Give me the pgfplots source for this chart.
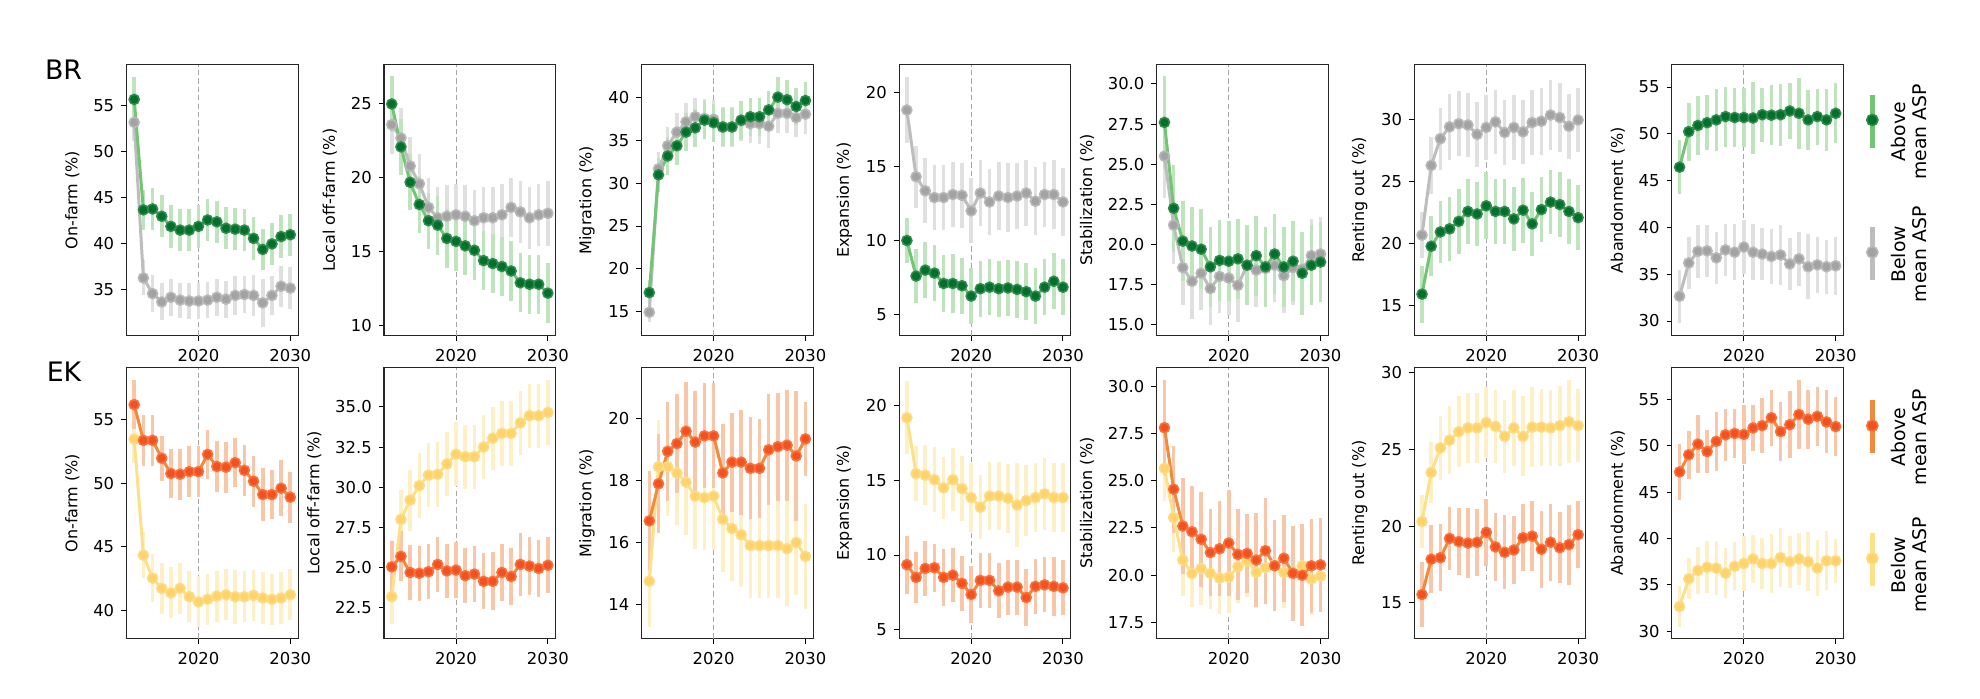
\documentclass[border=0pt]{standalone}
\usepackage{fontspec}
\setmainfont{DejaVu Sans}
\usepackage{pgfplots}
\usepackage{pgfplotstable}
\pgfplotsset{compat=1.18}

\definecolor{gdark}{HTML}{00702C}
\definecolor{gedge}{HTML}{2E8B4A}
\definecolor{gline}{HTML}{74C476}
\definecolor{BRAerr}{HTML}{BFE3BD}
\definecolor{kface}{HTML}{A3A3A3}
\definecolor{kedge}{HTML}{B8B8B8}
\definecolor{kline}{HTML}{BDBDBD}
\definecolor{BRBerr}{HTML}{E0E0E0}
\definecolor{rface}{HTML}{F4511E}
\definecolor{redge}{HTML}{F6733F}
\definecolor{rline}{HTML}{F08A3C}
\definecolor{EKAerr}{HTML}{F8C6A8}
\definecolor{yface}{HTML}{FDD36A}
\definecolor{yedge}{HTML}{FDDC85}
\definecolor{yline}{HTML}{FCE08A}
\definecolor{EKBerr}{HTML}{FDF0C7}

\pgfplotsset{
  panel/.style={anchor=south west, scale only axis, width=85.85pt, height=135.5pt,
    xmin=2012.15, xmax=2030.85, xtick={2020,2030},
    tick align=outside, xtick pos=left, ytick pos=left, major tick length=2.6pt,
    tick style={black, line width=0.5pt}, axis line style={line width=0.55pt, black!85},
    /pgf/number format/1000 sep={}, /pgf/number format/assume math mode=true,
    tick label style={font=\fontsize{8.2}{9}\selectfont},
    label style={font=\fontsize{8}{9}\selectfont},
    xticklabel style={yshift=-0.5pt}},
  refline/.style={forget plot, mark=none, color=black!35, line width=0.5pt, dash pattern=on 2.6pt off 1.6pt},
  errs/.style={forget plot, draw=none, mark=none, error bars/.cd, y dir=both, y explicit, error mark=none,
    error bar style={line width=1.8pt, draw=#1, solid}},
  lerrs/.style={forget plot, draw=none, mark=none, error bars/.cd, y dir=both, y explicit, error mark=none,
    error bar style={line width=2.2pt, draw=#1, solid}},
  BRA/.style={color=gline, line width=1.5pt, mark=*, mark size=2.5pt, mark options={fill=gdark, draw=gedge, line width=0.8pt}},
  BRB/.style={color=kline, line width=1.5pt, mark=*, mark size=2.5pt, mark options={fill=kface, draw=kedge, line width=0.8pt}},
  EKA/.style={color=rline, line width=1.5pt, mark=*, mark size=2.5pt, mark options={fill=rface, draw=redge, line width=0.8pt}},
  EKB/.style={color=yline, line width=1.5pt, mark=*, mark size=2.5pt, mark options={fill=yface, draw=yedge, line width=0.8pt}},
  dec/.style={yticklabel style={/pgf/number format/.cd, fixed, fixed zerofill, precision=1}}
}

% columns: year, Above mean ASP (A, error Ae), Below mean ASP (B, error Be)
\pgfplotstableread{
yr A Ae B Be
2013 55.7 2.4 53.2 2.0
2014 43.7 2.2 36.3 1.9
2015 43.8 2.3 34.6 2.0
2016 43.0 2.3 33.7 2.0
2017 41.9 2.3 34.2 2.0
2018 41.5 2.3 33.9 1.9
2019 41.5 2.3 33.8 2.0
2020 41.9 2.3 33.8 2.0
2021 42.6 2.3 33.9 2.0
2022 42.4 2.3 34.2 2.0
2023 41.7 2.3 34.0 2.0
2024 41.6 2.3 34.4 2.1
2025 41.5 2.3 34.5 2.0
2026 40.6 2.3 34.4 2.2
2027 39.4 2.2 33.6 2.6
2028 40.0 2.3 34.4 2.1
2029 40.8 2.3 35.4 2.2
2030 41.0 2.3 35.2 2.3
}\tBRa
\pgfplotstableread{
yr A Ae B Be
2013 25.0 1.9 23.6 2.0
2014 22.1 1.9 22.7 2.0
2015 19.7 1.9 20.8 2.0
2016 18.2 1.9 19.6 2.0
2017 17.1 1.9 18.0 2.0
2018 16.8 2.0 17.3 2.1
2019 15.9 2.0 17.4 2.1
2020 15.7 2.0 17.5 2.1
2021 15.4 2.0 17.4 2.1
2022 15.1 2.0 17.1 2.1
2023 14.4 2.0 17.3 2.1
2024 14.2 2.0 17.3 2.1
2025 14.0 2.0 17.5 2.1
2026 13.7 2.0 18.0 2.0
2027 12.9 2.0 17.7 2.1
2028 12.8 2.0 17.3 2.1
2029 12.8 2.0 17.5 2.1
2030 12.2 2.05 17.6 2.2
}\tBRb
\pgfplotstableread{
yr A Ae B Be
2013 17.2 1.5 14.9 1.1
2014 31.0 2.0 31.7 2.0
2015 33.2 2.2 34.4 2.2
2016 34.4 2.2 36.0 2.2
2017 36.0 2.2 37.2 2.2
2018 36.5 2.2 37.8 2.2
2019 37.4 2.2 37.6 2.3
2020 37.1 2.2 37.5 2.3
2021 36.6 2.2 36.6 2.3
2022 36.6 2.2 36.6 2.3
2023 37.4 2.2 37.3 2.3
2024 37.8 2.2 37.0 2.3
2025 37.8 2.2 37.0 2.4
2026 38.6 2.2 36.7 2.6
2027 40.1 2.3 38.2 2.3
2028 39.8 2.3 38.2 2.3
2029 39.0 2.2 37.7 2.3
2030 39.7 2.2 38.1 2.3
}\tBRc
\pgfplotstableread{
yr A Ae B Be
2013 10.0 1.5 18.8 2.2
2014 7.6 1.8 14.3 2.1
2015 8.0 1.9 13.35 2.2
2016 7.8 1.9 12.9 2.2
2017 7.1 1.9 12.9 2.2
2018 7.1 2.0 13.1 2.2
2019 6.95 1.9 13.05 2.2
2020 6.25 1.9 12.0 2.2
2021 6.75 1.9 13.2 2.2
2022 6.85 1.9 12.6 2.2
2023 6.75 1.9 13.0 2.3
2024 6.8 1.9 12.9 2.3
2025 6.7 1.9 13.0 2.2
2026 6.55 1.9 13.2 2.2
2027 6.25 1.9 12.65 2.3
2028 6.85 1.9 13.1 2.2
2029 7.25 1.9 13.1 2.3
2030 6.85 1.9 12.6 2.3
}\tBRd
\pgfplotstableread{
yr A Ae B Be
2013 27.6 2.9 25.5 2.6
2014 22.25 2.7 21.2 2.4
2015 20.2 2.5 18.55 2.3
2016 19.9 2.45 17.7 2.35
2017 19.7 2.5 18.2 2.3
2018 18.6 2.5 17.25 2.3
2019 19.0 2.5 18.0 2.3
2020 18.95 2.5 17.9 2.3
2021 19.1 2.5 17.45 2.3
2022 18.7 2.5 18.7 2.3
2023 19.3 2.5 18.4 2.3
2024 18.6 2.5 18.5 2.3
2025 19.4 2.5 18.7 2.3
2026 18.6 2.5 18.05 2.3
2027 18.95 2.5 18.55 2.3
2028 18.2 2.6 18.45 2.3
2029 18.7 2.5 19.3 2.3
2030 18.9 2.5 19.4 2.3
}\tBRe
\pgfplotstableread{
yr A Ae B Be
2013 15.95 2.3 20.7 1.85
2014 19.8 2.4 26.3 2.3
2015 20.95 2.5 28.45 2.5
2016 21.2 2.6 29.4 2.65
2017 21.8 2.6 29.65 2.6
2018 22.6 2.6 29.55 2.6
2019 22.4 2.6 28.8 2.6
2020 23.05 2.7 29.35 2.6
2021 22.6 2.6 29.8 2.6
2022 22.6 2.6 28.95 2.6
2023 22.0 2.6 29.35 2.6
2024 22.7 2.6 29.0 2.6
2025 21.6 2.6 29.75 2.6
2026 22.75 2.6 29.85 2.7
2027 23.35 2.6 30.35 2.8
2028 23.15 2.6 30.15 2.8
2029 22.6 2.6 29.45 2.6
2030 22.1 2.6 29.95 2.6
}\tBRf
\pgfplotstableread{
yr A Ae B Be
2013 46.45 2.9 32.65 2.85
2014 50.25 3.1 36.2 2.8
2015 50.9 3.2 37.45 2.8
2016 51.2 2.95 37.5 2.8
2017 51.5 3.3 36.75 2.8
2018 51.85 3.2 37.6 2.8
2019 51.75 3.2 37.35 3.0
2020 51.75 3.2 37.9 2.9
2021 51.7 3.8 37.35 3.0
2022 52.05 2.9 37.15 2.8
2023 52.0 3.2 36.9 2.9
2024 52.05 3.3 37.05 3.2
2025 52.45 3.0 36.1 2.8
2026 52.2 3.8 36.65 2.9
2027 51.5 3.2 35.8 3.5
2028 51.85 3.0 36.0 3.0
2029 51.5 3.3 35.8 2.9
2030 52.2 3.2 35.9 3.1
}\tBRg
\pgfplotstableread{
yr A Ae B Be
2013 56.15 1.9 53.45 1.9
2014 53.35 2.0 44.35 1.8
2015 53.35 2.0 42.55 1.9
2016 51.95 1.75 41.75 2.0
2017 50.75 1.9 41.4 2.0
2018 50.7 2.0 41.75 2.0
2019 50.9 2.0 41.1 2.0
2020 50.9 2.0 40.7 2.0
2021 52.25 1.9 40.9 2.0
2022 51.3 2.0 41.15 2.0
2023 51.25 2.0 41.25 2.0
2024 51.6 1.9 41.1 2.1
2025 51.0 2.0 41.1 2.0
2026 50.15 2.0 41.2 2.0
2027 49.1 2.05 41.0 2.0
2028 49.1 1.9 40.9 2.0
2029 49.6 2.2 41.0 2.0
2030 48.9 2.0 41.25 2.0
}\tEKa
\pgfplotstableread{
yr A Ae B Be
2013 25.05 1.6 23.2 1.7
2014 25.7 1.55 28.0 1.8
2015 24.7 1.7 29.2 1.9
2016 24.65 1.7 30.1 2.0
2017 24.75 1.7 30.75 2.0
2018 25.2 1.7 30.8 2.0
2019 24.8 1.7 31.45 2.0
2020 24.85 1.75 32.05 2.0
2021 24.5 1.7 31.9 2.0
2022 24.6 1.75 31.9 2.0
2023 24.15 1.75 32.5 2.0
2024 24.15 1.8 33.05 1.95
2025 24.7 1.75 33.35 2.0
2026 24.45 1.8 33.35 2.0
2027 25.2 1.95 34.0 2.0
2028 25.1 1.8 34.45 2.0
2029 24.95 1.8 34.45 2.0
2030 25.15 1.75 34.65 2.0
}\tEKb
\pgfplotstableread{
yr A Ae B Be
2013 16.7 1.6 14.75 1.5
2014 17.9 1.6 18.45 1.5
2015 18.95 1.6 18.45 1.6
2016 19.2 1.6 18.25 1.7
2017 19.6 1.6 17.95 1.7
2018 19.25 1.65 17.5 1.7
2019 19.45 1.7 17.45 1.7
2020 19.45 1.7 17.5 1.75
2021 18.25 1.6 16.75 1.7
2022 18.6 1.6 16.45 1.7
2023 18.6 1.7 16.25 1.7
2024 18.4 1.65 15.9 1.7
2025 18.4 1.6 15.9 1.7
2026 19.0 1.8 15.9 1.7
2027 19.1 1.75 15.9 1.7
2028 19.15 1.8 15.8 1.85
2029 18.8 2.1 16.0 1.7
2030 19.35 1.2 15.55 1.7
}\tEKc
\pgfplotstableread{
yr A Ae B Be
2013 9.35 1.95 19.2 2.45
2014 8.5 1.7 15.45 1.85
2015 9.1 1.85 15.35 2.0
2016 9.15 1.6 15.05 2.2
2017 8.5 1.9 14.5 2.1
2018 8.65 1.8 15.05 2.1
2019 8.1 1.85 14.45 2.2
2020 7.35 1.9 13.85 2.3
2021 8.3 1.85 13.2 2.15
2022 8.3 1.85 13.95 2.3
2023 7.6 1.85 13.95 2.3
2024 7.85 1.85 13.8 2.3
2025 7.85 1.85 13.35 2.8
2026 7.15 1.9 13.65 2.4
2027 7.9 1.85 13.85 2.3
2028 8.0 1.85 14.1 2.4
2029 7.9 2.0 13.85 2.3
2030 7.8 1.85 13.85 2.3
}\tEKd
\pgfplotstableread{
yr A Ae B Be
2013 27.8 2.5 25.65 1.7
2014 24.55 2.3 23.05 1.8
2015 22.6 2.55 20.8 1.9
2016 22.3 2.4 20.1 1.8
2017 21.9 2.5 20.35 1.9
2018 21.2 2.3 20.1 1.9
2019 21.4 2.5 19.85 1.9
2020 21.7 2.8 19.9 1.9
2021 21.1 2.4 20.45 1.9
2022 21.15 2.1 20.75 1.9
2023 20.8 2.5 20.15 1.9
2024 21.3 2.8 20.4 1.9
2025 20.5 2.4 20.55 1.9
2026 20.9 2.3 20.15 1.9
2027 20.1 2.5 20.1 1.9
2028 20.0 2.7 20.5 1.9
2029 20.5 2.5 19.8 1.9
2030 20.55 2.5 19.95 1.9
}\tEKe
\pgfplotstableread{
yr A Ae B Be
2013 15.55 2.1 20.3 1.75
2014 17.85 2.2 23.5 2.0
2015 17.95 2.2 25.1 2.1
2016 19.2 2.05 25.6 2.2
2017 19.0 2.2 26.15 2.3
2018 18.9 2.3 26.4 2.3
2019 18.95 2.2 26.4 2.3
2020 19.6 2.2 26.75 2.3
2021 18.65 2.2 26.5 2.4
2022 18.3 2.4 25.85 2.4
2023 18.45 2.2 26.4 2.5
2024 19.25 2.2 25.85 2.6
2025 19.35 2.3 26.45 2.6
2026 18.5 2.5 26.45 2.5
2027 18.95 2.5 26.4 2.5
2028 18.6 2.3 26.55 2.6
2029 18.8 2.6 26.8 2.7
2030 19.45 2.2 26.55 2.4
}\tEKf
\pgfplotstableread{
yr A Ae B Be
2013 47.2 3.0 32.65 2.2
2014 49.05 2.6 35.65 2.2
2015 50.2 3.1 36.55 2.5
2016 49.4 2.3 36.9 2.8
2017 50.5 3.2 36.8 2.9
2018 51.2 2.8 36.25 2.7
2019 51.35 2.6 37.0 2.6
2020 51.25 3.2 37.3 3.0
2021 51.95 2.5 37.8 2.6
2022 52.2 3.0 37.3 2.8
2023 53.05 3.0 37.3 3.2
2024 51.55 3.2 37.95 3.2
2025 52.3 3.6 37.5 2.8
2026 53.4 3.75 37.8 2.8
2027 52.9 3.2 37.5 3.2
2028 53.2 3.2 36.8 3.0
2029 52.6 3.4 37.6 3.2
2030 52.1 3.2 37.6 2.4
}\tEKg

% #1 position, #2 (unused), #3 table, #4 ymin, #5 ymax, #6 yticks, #7 ylabel, #8 extra options, #9 row
\newcommand{\panel}[9]{%
\begin{axis}[panel, at={(#1)}, ymin=#4, ymax=#5, ytick={#6}, ylabel={#7}, #8]
\addplot[refline] coordinates {(2020,#4) (2020,#5)};
\addplot[errs=#9Berr] table[x=yr, y=B, y error=Be] {#3};
\addplot[errs=#9Aerr] table[x=yr, y=A, y error=Ae] {#3};
\addplot[#9B] table[x=yr, y=B] {#3};
\addplot[#9A] table[x=yr, y=A] {#3};
\end{axis}}

\begin{document}
\begin{tikzpicture}
\path[use as bounding box] (0,0) rectangle (990pt,349.5pt);

\panel{63.2pt,181.65pt}{}{\tBRa}{30.03}{59.47}{35,40,45,50,55}{On-farm (\%)}{}{BR}
\panel{191.98pt,181.65pt}{}{\tBRb}{9.32}{27.66}{10,15,20,25}{Local off-farm (\%)}{}{BR}
\panel{320.76pt,181.65pt}{}{\tBRc}{12.15}{43.9}{15,20,25,30,35,40}{Migration (\%)}{}{BR}
\panel{449.54pt,181.65pt}{}{\tBRd}{3.58}{21.86}{5,10,15,20}{Expansion (\%)}{}{BR}
\panel{578.32pt,181.65pt}{}{\tBRe}{14.31}{31.2}{15,17.5,20,22.5,25,27.5,30}{Stabilization (\%)}{dec}{BR}
\panel{707.1pt,181.65pt}{}{\tBRf}{12.61}{34.4}{15,20,25,30}{Renting out (\%)}{}{BR}
\panel{835.88pt,181.65pt}{}{\tBRg}{28.43}{57.4}{30,35,40,45,50,55}{Abandonment (\%)}{}{BR}

\panel{63.2pt,30.2pt}{}{\tEKa}{37.82}{59.05}{40,45,50,55}{On-farm (\%)}{}{EK}
\panel{191.98pt,30.2pt}{}{\tEKb}{20.59}{37.44}{22.5,25,27.5,30,32.5,35}{Local off-farm (\%)}{dec}{EK}
\panel{320.76pt,30.2pt}{}{\tEKc}{12.89}{21.66}{14,16,18,20}{Migration (\%)}{}{EK}
\panel{449.54pt,30.2pt}{}{\tEKd}{4.4}{22.56}{5,10,15,20}{Expansion (\%)}{}{EK}
\panel{578.32pt,30.2pt}{}{\tEKe}{16.65}{30.98}{17.5,20,22.5,25,27.5,30}{Stabilization (\%)}{dec}{EK}
\panel{707.1pt,30.2pt}{}{\tEKf}{12.68}{30.33}{15,20,25,30}{Renting out (\%)}{}{EK}
\panel{835.88pt,30.2pt}{}{\tEKg}{29.19}{58.47}{30,35,40,45,50,55}{Abandonment (\%)}{}{EK}

% overlay axis in pixel units of the reference, for row titles and legends
\begin{axis}[at={(0pt,0pt)}, anchor=south west, scale only axis, width=990pt, height=349.5pt,
  xmin=0, xmax=1980, ymin=0, ymax=699, y dir=reverse, hide axis, clip=false]
\node[anchor=base west, font=\fontsize{13.4}{15}\selectfont, inner sep=0pt] at (axis cs:44.6,79.3) {BR};
\node[anchor=base west, font=\fontsize{13.4}{15}\selectfont, inner sep=0pt] at (axis cs:46.4,382) {EK};
% legend BR
\addplot[lerrs=gline] coordinates {(1872.3,121.5) +- (0,26.5)};
\addplot[only marks, mark=*, mark size=2.8pt, mark options={fill=gdark, draw=gedge, line width=0.8pt}] coordinates {(1872.3,120)};
\addplot[lerrs=kline] coordinates {(1872.3,253.3) +- (0,26.7)};
\addplot[only marks, mark=*, mark size=2.8pt, mark options={fill=kface, draw=kedge, line width=0.8pt}] coordinates {(1872.3,252.3)};
\node[rotate=90, align=center, font=\fontsize{9.4}{10.2}\selectfont] at (axis cs:1909,131.7) {Above\\mean ASP};
\node[rotate=90, align=center, font=\fontsize{9.4}{10.2}\selectfont] at (axis cs:1909,254.3) {Below\\mean ASP};
% legend EK
\addplot[lerrs=rline] coordinates {(1872.3,426.7) +- (0,26.7)};
\addplot[only marks, mark=*, mark size=2.8pt, mark options={fill=rface, draw=redge, line width=0.8pt}] coordinates {(1872.3,425.7)};
\addplot[lerrs=yline] coordinates {(1872.3,559.2) +- (0,26.5)};
\addplot[only marks, mark=*, mark size=2.8pt, mark options={fill=yface, draw=yedge, line width=0.8pt}] coordinates {(1872.3,558.3)};
\node[rotate=90, align=center, font=\fontsize{9.4}{10.2}\selectfont] at (axis cs:1909,437.3) {Above\\mean ASP};
\node[rotate=90, align=center, font=\fontsize{9.4}{10.2}\selectfont] at (axis cs:1909,565) {Below\\mean ASP};
\end{axis}
\end{tikzpicture}
\end{document}
